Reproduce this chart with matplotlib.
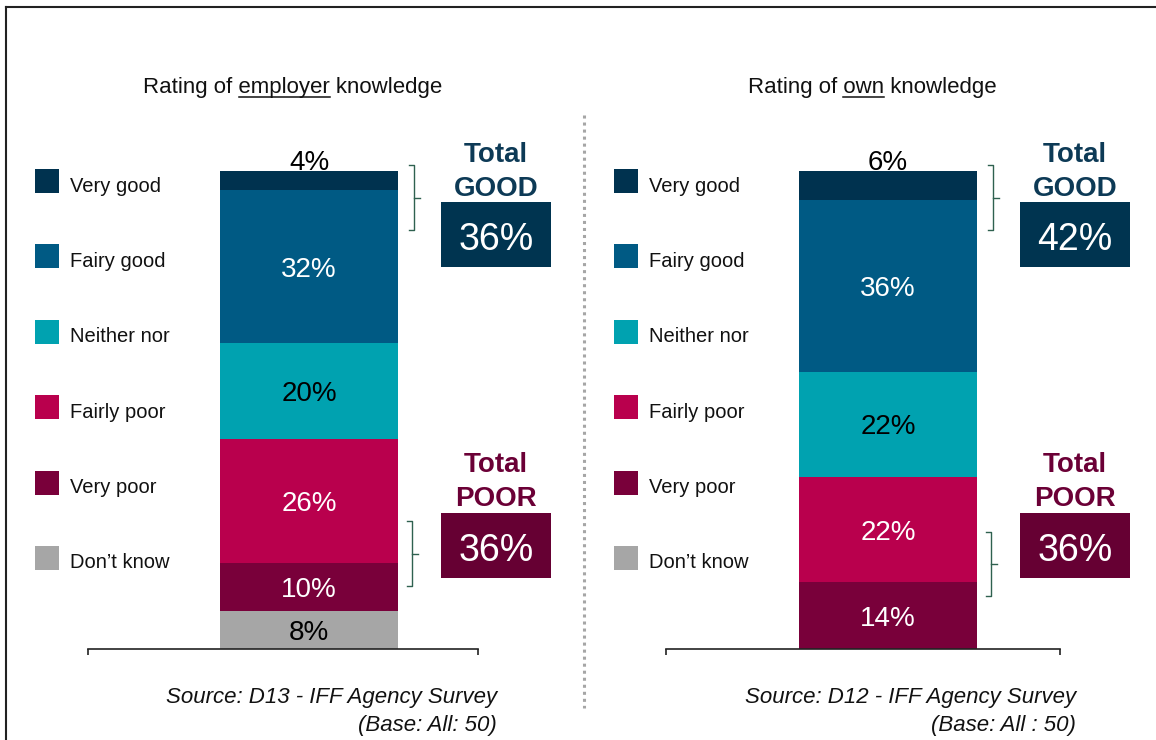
import matplotlib
matplotlib.use('Agg')
import matplotlib.pyplot as plt
from matplotlib.patches import Rectangle
from matplotlib.lines import Line2D
import numpy as np

plt.rcParams['font.family'] = ['Liberation Sans', 'DejaVu Sans']

# ---------------- data ----------------
categories = ['Very good', 'Fairy good', 'Neither nor', 'Fairly poor', 'Very poor', 'Don\u2019t know']
employer_values = [4, 32, 20, 26, 10, 8]
own_values = [6, 36, 22, 22, 14, 0]
good_idx = [0, 1]
poor_idx = [3, 4]
title_parts = [('Rating of ', 'employer', ' knowledge'),
               ('Rating of ', 'own', ' knowledge')]
sources = ['Source: D13 - IFF Agency Survey', 'Source: D12 - IFF Agency Survey']
bases = ['(Base: All: 50)', '(Base: All : 50)']

# ---------------- style ----------------
seg_colors = ['#00324f', '#005a84', '#00a2b0', '#b9004d', '#79003a', '#a6a6a6']
label_colors = ['black', 'white', 'black', 'white', 'white', 'black']
good_color = '#003450'
good_text = '#0d3a56'
poor_color = '#660033'
poor_text = '#6b0036'
bracket_color = '#2f6150'

W, H = 1156, 740
fig = plt.figure(figsize=(W / 100, H / 100), dpi=100)
renderer = fig.canvas.get_renderer()
VA = 'center_baseline'


def fx(x):
    return x / W


def fy(y):
    return 1 - y / H


def line(xs, ys, **kw):
    fig.add_artist(Line2D([fx(x) for x in xs], [fy(y) for y in ys],
                          transform=fig.transFigure, **kw))


def rect(x0, y0, x1, y1, color):
    fig.add_artist(Rectangle((fx(x0), fy(y1)), fx(x1) - fx(x0), fy(y0) - fy(y1),
                             transform=fig.transFigure, facecolor=color,
                             edgecolor='none'))


def bracket(x0, y0, y1):
    ym = (y0 + y1) / 2
    line([x0, x0 + 5, x0 + 5, x0], [y0, y0, y1, y1], color=bracket_color, lw=1.0)
    line([x0 + 5, x0 + 11], [ym, ym], color=bracket_color, lw=1.0)


def text_width(s, **kw):
    t = fig.text(0, 0, s, **kw)
    w = t.get_window_extent(renderer).width
    t.remove()
    return w


# frame
line([6, W], [7, 7], color='#222222', lw=1.5)
line([6, 6], [7, H], color='#222222', lw=1.5)

# separator
line([584, 584], [115, 708], color='#a6a6a6', lw=2.2, linestyle=(0, (1.0, 1.3)),
     dash_capstyle='butt')

panels = [
    dict(values=employer_values, dx=0, ax_left=88, ax_w=390, poor_br=(521, 586)),
    dict(values=own_values, dx=579, ax_left=666, ax_w=394, poor_br=(532, 596)),
]

BAR_FS = 20
for p_i, p in enumerate(panels):
    dx = p['dx']
    vals = p['values']

    ax = fig.add_axes([fx(p['ax_left']), fy(649), p['ax_w'] / W, 478 / H])
    ax.set_xlim(0, p['ax_w'])
    ax.set_ylim(0, 100)
    bar_center = 220 + dx + 89 - p['ax_left']
    bottom = 0
    for i in reversed(range(len(categories))):
        v = vals[i]
        if v <= 0:
            continue
        ax.bar(bar_center, v, width=178, bottom=bottom, color=seg_colors[i],
               edgecolor='none', zorder=2)
        if i == 0:
            ax.annotate(f'{v}%', xy=(bar_center, bottom + v), xytext=(0, 11),
                        textcoords='offset pixels', ha='center', va=VA,
                        fontsize=BAR_FS, color=label_colors[i], zorder=3,
                        annotation_clip=False)
        else:
            ax.text(bar_center, bottom + v / 2, f'{v}%', ha='center', va=VA,
                    fontsize=BAR_FS, color=label_colors[i], zorder=3)
        bottom += v
    for s in ['top', 'left', 'right']:
        ax.spines[s].set_visible(False)
    ax.spines['bottom'].set_color('#222222')
    ax.spines['bottom'].set_linewidth(1.2)
    ax.set_yticks([])
    ax.set_xticks([0, p['ax_w']])
    ax.set_xticklabels(['', ''])
    ax.tick_params(axis='x', direction='out', length=4, width=1.2, color='#222222')
    ax.patch.set_visible(False)

    # title with underlined word
    pre, word, post = title_parts[p_i]
    full = pre + word + post
    tkw = dict(fontsize=16, color='#111111')
    t = fig.text(fx(293 + dx), fy(85), full, ha='center', va=VA, **tkw)
    bb = t.get_window_extent(renderer)
    w_pre_word = text_width(pre + word, **tkw)
    w_word = text_width(word, **tkw)
    x_end = bb.x0 + w_pre_word
    x_start = x_end - w_word
    fig.add_artist(Line2D([x_start / W, x_end / W], [fy(96.5), fy(96.5)],
                          transform=fig.transFigure, color='#111111', lw=1.1))

    # legend
    for i, cat in enumerate(categories):
        yc = 181 + i * 75.4
        rect(35 + dx, yc - 12, 59 + dx, yc + 12, seg_colors[i])
        fig.text(fx(70 + dx), fy(yc + 3), cat, ha='left', va=VA,
                 fontsize=14.5, color='#111111')

    # totals
    total_good = sum(vals[i] for i in good_idx)
    total_poor = sum(vals[i] for i in poor_idx)
    bx0, bx1 = 441 + dx, 551 + dx
    bxc = (bx0 + bx1) / 2
    fig.text(fx(bxc), fy(152), 'Total', ha='center', va=VA, fontsize=20,
             fontweight='bold', color=good_text)
    fig.text(fx(bxc), fy(185.5), 'GOOD', ha='center', va=VA, fontsize=20,
             fontweight='bold', color=good_text)
    rect(bx0, 202, bx1, 267, good_color)
    fig.text(fx(bxc), fy(236.5), f'{total_good}%', ha='center', va=VA,
             fontsize=27, color='white')

    fig.text(fx(bxc), fy(461.5), 'Total', ha='center', va=VA, fontsize=20,
             fontweight='bold', color=poor_text)
    fig.text(fx(bxc), fy(496.5), 'POOR', ha='center', va=VA, fontsize=20,
             fontweight='bold', color=poor_text)
    rect(bx0, 513, bx1, 578, poor_color)
    fig.text(fx(bxc), fy(547), f'{total_poor}%', ha='center', va=VA,
             fontsize=27, color='white')

    # brackets
    bracket(409 + dx, 165, 230)
    bracket(407 + dx, p['poor_br'][0], p['poor_br'][1])

    # source
    fig.text(fx(497 + dx), fy(695), sources[p_i], ha='right', va=VA,
             fontsize=16, style='italic', color='#111111')
    fig.text(fx(497 + dx), fy(723), bases[p_i], ha='right', va=VA,
             fontsize=16, style='italic', color='#111111')

fig.savefig('out.png', dpi=100)
